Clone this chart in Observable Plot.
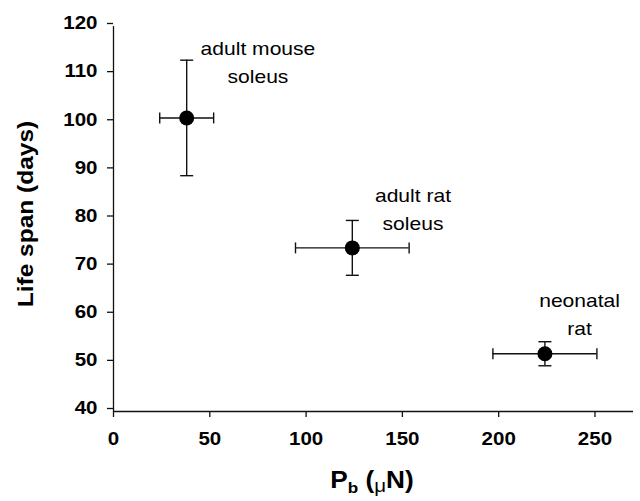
<!DOCTYPE html>
<html><head><meta charset="utf-8">
<script src="https://cdn.jsdelivr.net/npm/d3@7"></script>
<script src="https://cdn.jsdelivr.net/npm/@observablehq/plot@0.6"></script>
<style>body{margin:0;background:#fff}</style>
</head><body><div id="chart"></div>
<script>
// ---- data ----
const muscles = ["adult mouse soleus", "adult rat soleus", "neonatal rat"];
const pb = [38, 124, 224];          // P_b (μN)
const pbErr = [14, 29.5, 27];
const lifeSpan = [101, 74, 52];     // days
const lifeSpanErr = [12, 5.7, 2.5];
const noteText = ["adult mouse\nsoleus", "adult rat\nsoleus", "neonatal\nrat"];
const noteX = [75, 155.5, 242];
const noteY = [108.2, 77.8, 55.8];
const xTicks = [0, 50, 100, 150, 200, 250];
const yTicks = [40, 50, 60, 70, 80, 90, 100, 110, 120];

const rows = muscles.map((m, i) => ({
  muscle: m, pb: pb[i], pbErr: pbErr[i], ls: lifeSpan[i], lsErr: lifeSpanErr[i],
  note: noteText[i], nx: noteX[i], ny: noteY[i]
}));

const capH = {draw(c) { c.moveTo(-6.5, 0); c.lineTo(6.5, 0); }};
const capV = {draw(c) { c.moveTo(0, -5.5); c.lineTo(0, 5.5); }};
const ink = "#111";
const sw = 1.4;

const svg = Plot.plot({
  width: 640, height: 501,
  marginLeft: 113, marginRight: 7, marginTop: 26, marginBottom: 90,
  style: {fontFamily: "'Liberation Sans', Arial, Helvetica, sans-serif", background: "#fff", color: "#000"},
  x: {domain: [0, 270]},
  y: {domain: [40, 120]},
  marks: [
    Plot.ruleX([0], {stroke: ink, strokeWidth: 1.3}),
    Plot.ruleY([40], {stroke: ink, strokeWidth: 1.3}),
    Plot.axisX({ticks: xTicks, tickSize: 6, tickPadding: 15, fontSize: 18, fontWeight: "bold", label: null, stroke: ink, strokeWidth: 1.3}),
    Plot.axisY({ticks: yTicks, tickSize: 6, tickPadding: 10, fontSize: 18, fontWeight: "bold", label: null, dy: -3, stroke: ink, strokeWidth: 1.3}),
    Plot.ruleX(rows, {x: "pb", y1: d => d.ls - d.lsErr, y2: d => d.ls + d.lsErr, stroke: ink, strokeWidth: sw}),
    Plot.ruleY(rows, {y: "ls", x1: d => d.pb - d.pbErr, x2: d => d.pb + d.pbErr, stroke: ink, strokeWidth: sw}),
    Plot.dot(rows, {x: "pb", y: d => d.ls + d.lsErr, symbol: capH, fill: "none", stroke: ink, strokeWidth: sw}),
    Plot.dot(rows, {x: "pb", y: d => d.ls - d.lsErr, symbol: capH, fill: "none", stroke: ink, strokeWidth: sw}),
    Plot.dot(rows, {x: d => d.pb - d.pbErr, y: "ls", symbol: capV, fill: "none", stroke: ink, strokeWidth: sw}),
    Plot.dot(rows, {x: d => d.pb + d.pbErr, y: "ls", symbol: capV, fill: "none", stroke: ink, strokeWidth: sw}),
    Plot.dot(rows, {x: "pb", y: "ls", r: 7.5, fill: "#000", stroke: "none"}),
    Plot.text(rows, {x: "nx", y: "ny", text: "note", fontSize: 18, lineAnchor: "bottom", lineHeight: 1.56, textAnchor: "middle", fill: "#000"})
  ]
});

const sel = d3.select(svg);
// axis titles
sel.append("text")
  .attr("transform", "translate(32.5,214) rotate(-90)")
  .attr("text-anchor", "middle")
  .attr("font-size", 21.5).attr("font-weight", "bold").attr("fill", "#000")
  .text("Life span (days)");

const xl = sel.append("text")
  .attr("transform", "translate(372,488)")
  .attr("text-anchor", "middle")
  .attr("font-size", 23).attr("font-weight", "bold").attr("fill", "#000");
xl.append("tspan").text("P");
xl.append("tspan").attr("font-size", 15).attr("dy", 5).text("b");
xl.append("tspan").attr("dy", -5).text(" (");
xl.append("tspan").attr("font-size", 18).attr("font-weight", "normal").attr("dy", 4).text("μ");
xl.append("tspan").attr("dy", -4).text("N)");

// the reference's type is slightly wide; stretch each text horizontally about its anchor
sel.selectAll("text").each(function () {
  const bold = this.getAttribute("font-weight") === "bold" ||
    (this.parentNode && this.parentNode.getAttribute && this.parentNode.getAttribute("font-weight") === "bold");
  const s = bold ? 1.14 : 1.17;
  const t = this.getAttribute("transform");
  if (t) this.setAttribute("transform", t + ` scale(${s},1)`);
  else {
    const x = +this.getAttribute("x") || 0, y = +this.getAttribute("y") || 0;
    this.removeAttribute("x"); this.removeAttribute("y");
    this.setAttribute("transform", `translate(${x},${y}) scale(${s},1)`);
  }
});

document.getElementById("chart").appendChild(svg);
</script>
</body></html>
